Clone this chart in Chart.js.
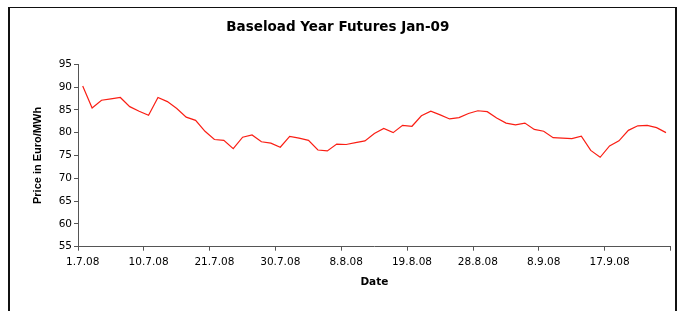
<!DOCTYPE html>
<html lang="en">
<head>
    <meta charset="UTF-8">
    <title>Baseload Year Futures Jan-09</title>
    <style>
        html, body {
            margin: 0;
            padding: 0;
            background: #fff;
        }

        .wrap {
            position: relative;
            width: 681px;
            height: 311px;
            overflow: hidden;
        }

        /* frame around the chart object, bottom edge is cut off in the original */
        .frame {
            position: absolute;
            left: 8px;
            top: 7px;
            width: 665px;
            height: 320px;
            border-top: 1px solid #111;
            border-left: 2px solid #111;
            border-right: 2px solid #111;
            pointer-events: none;
        }
    </style>
</head>
<body>
    <div class="wrap">
        <canvas id="futuresChart" width="681" height="311"></canvas>
        <div class="frame"></div>
    </div>
    <script src="https://cdn.jsdelivr.net/npm/chart.js"></script>
    <script>
        // trading days, 1.7.08 - 25.9.08
        const dates = [
            '1.7.08', '2.7.08', '3.7.08', '4.7.08', '7.7.08', '8.7.08', '9.7.08',
            '10.7.08', '11.7.08', '14.7.08', '15.7.08', '16.7.08', '17.7.08', '18.7.08',
            '21.7.08', '22.7.08', '23.7.08', '24.7.08', '25.7.08', '28.7.08', '29.7.08',
            '30.7.08', '31.7.08', '1.8.08', '4.8.08', '5.8.08', '6.8.08', '7.8.08',
            '8.8.08', '11.8.08', '12.8.08', '13.8.08', '14.8.08', '15.8.08', '18.8.08',
            '19.8.08', '20.8.08', '21.8.08', '22.8.08', '25.8.08', '26.8.08', '27.8.08',
            '28.8.08', '29.8.08', '1.9.08', '2.9.08', '3.9.08', '4.9.08', '5.9.08',
            '8.9.08', '9.9.08', '10.9.08', '11.9.08', '12.9.08', '15.9.08', '16.9.08',
            '17.9.08', '18.9.08', '19.9.08', '22.9.08', '23.9.08', '24.9.08', '25.9.08'
        ];

        // price in Euro/MWh
        const prices = [
            90.2, 85.4, 87.1, 87.4, 87.7, 85.7, 84.7,
            83.8, 87.7, 86.8, 85.3, 83.4, 82.7, 80.3,
            78.5, 78.3, 76.5, 79.0, 79.5, 78.0, 77.7,
            76.8, 79.2, 78.8, 78.3, 76.2, 76.0, 77.5,
            77.4, 77.8, 78.2, 79.8, 80.9, 80.0, 81.6,
            81.4, 83.7, 84.7, 83.9, 83.0, 83.3, 84.2,
            84.8, 84.6, 83.2, 82.1, 81.7, 82.1, 80.7,
            80.3, 78.9, 78.8, 78.7, 79.2, 76.1, 74.6,
            77.1, 78.2, 80.5, 81.5, 81.6, 81.1, 80.0
        ];

        const yMin = 55;
        const yMax = 95;
        const yStep = 5;
        const labelEvery = 7;

        const axisColor = '#555';
        const tickFont = { family: '"DejaVu Sans", Verdana, sans-serif', size: 10.5 };

        const ctx = document.getElementById('futuresChart').getContext('2d');
        new Chart(ctx, {
            type: 'line',
            data: {
                labels: dates,
                datasets: [{
                    label: 'Baseload Year Futures Jan-09',
                    data: prices,
                    borderColor: 'rgb(250, 30, 20)',
                    borderWidth: 1.2,
                    pointRadius: 0,
                    tension: 0,
                    fill: false
                }]
            },
            options: {
                responsive: false,
                animation: false,
                layout: {
                    padding: { left: 5, right: 10.3, top: 0, bottom: 0 }
                },
                plugins: {
                    legend: { display: false },
                    tooltip: { enabled: false },
                    title: {
                        display: true,
                        text: 'Baseload Year Futures Jan-09',
                        color: '#000',
                        font: { family: '"DejaVu Sans", Verdana, sans-serif', size: 13.5, weight: 'bold' },
                        padding: { top: 19, bottom: 29 }
                    }
                },
                scales: {
                    x: {
                        type: 'category',
                        offset: true,
                        grid: {
                            offset: true,
                            drawOnChartArea: false,
                            drawTicks: true,
                            tickLength: 4,
                            color: (c) => (c.index === undefined || c.index % labelEvery === 0) ? axisColor : 'rgba(0,0,0,0)'
                        },
                        border: { color: axisColor, width: 1 },
                        ticks: {
                            autoSkip: false,
                            maxRotation: 0,
                            minRotation: 0,
                            padding: 5,
                            color: '#000',
                            font: tickFont,
                            callback: (v, i) => i % labelEvery === 0 ? dates[i] : ''
                        },
                        title: {
                            display: true,
                            text: 'Date',
                            color: '#000',
                            font: { family: '"DejaVu Sans", Verdana, sans-serif', size: 10.5, weight: 'bold' },
                            padding: { top: 0, bottom: 22 }
                        },
                        afterFit: (scale) => { scale.height = 64.3; }
                    },
                    y: {
                        min: yMin,
                        max: yMax,
                        grid: {
                            drawOnChartArea: false,
                            drawTicks: true,
                            tickLength: 4,
                            color: axisColor
                        },
                        border: { color: axisColor, width: 1 },
                        ticks: {
                            stepSize: yStep,
                            padding: 2,
                            color: '#000',
                            font: tickFont
                        },
                        title: {
                            display: true,
                            text: 'Price in Euro/MWh',
                            color: '#000',
                            font: { family: 'Arial, "Liberation Sans", sans-serif', size: 11, weight: 'bold' },
                            padding: { top: 26, bottom: 0 }
                        },
                        afterFit: (scale) => { scale.width = 73; }
                    }
                }
            }
        });
    </script>
</body>
</html>
